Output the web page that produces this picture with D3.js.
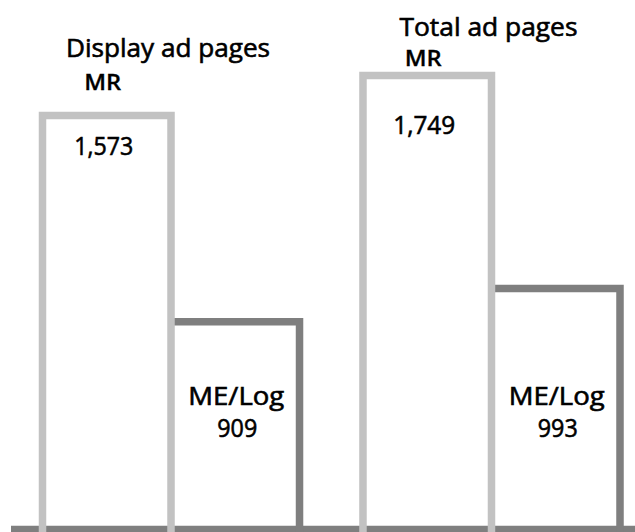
<!DOCTYPE html>
<html>
<head>
<meta charset="utf-8">
<script src="https://cdn.jsdelivr.net/npm/d3@7"></script>
<style>
  html, body { margin: 0; padding: 0; background: #ffffff; }
  svg { display: block; }
  text { font-family: "Open Sans", "Noto Sans", sans-serif; fill: #000; stroke: #000; stroke-width: 0.6px; }
  text.bold { stroke-width: 0.3px; }
</style>
</head>
<body>
<svg id="chart" width="635" height="532"></svg>
<script>
// ---- data ----
const groups = ["Display ad pages", "Total ad pages"];
const series = ["MR", "ME/Log"];
const mrValues = [1573, 1749];
const meLogValues = [909, 993];
const valueLabels = [["1,573", "909"], ["1,749", "993"]];

// ---- layout ----
const W = 635, H = 532;
const baseY = 529.5;
const sw = 7.5;
const light = "#c2c2c2";
const dark = "#7f7f7f";

const svg = d3.select("#chart");

const x0 = d3.scaleBand().domain(groups).range([42.5, 620]).paddingInner(0.198).paddingOuter(0).align(0);
const x1 = d3.scaleBand().domain(series).range([0, x0.bandwidth()]).padding(0);
// the original is not drawn to a linear scale; a truncated log axis matches its bar heights best
const y = d3.scaleLog().domain([523, 1749]).range([baseY, 75.6]);

// baseline
svg.append("line")
  .attr("x1", 11).attr("x2", W)
  .attr("y1", baseY).attr("y2", baseY)
  .attr("stroke", dark).attr("stroke-width", sw);

const data = groups.map((g, i) => ({ group: g, mr: mrValues[i], me: meLogValues[i], labels: valueLabels[i] }));

const gs = svg.selectAll("g.grp").data(data).join("g").attr("class", "grp")
  .attr("transform", d => `translate(${x0(d.group)},0)`);

// ME/Log bars (dark, top + right side)
gs.append("path")
  .attr("d", d => {
    const l = x1("ME/Log"), r = l + x1.bandwidth(), t = y(d.me);
    return `M${l},${t}H${r}V${H + 4}`;
  })
  .attr("fill", "none").attr("stroke", dark).attr("stroke-width", sw)
  .attr("stroke-linejoin", "miter");

// MR bars (light, open at bottom)
gs.append("path")
  .attr("d", d => {
    const l = x1("MR"), r = l + x1.bandwidth(), t = y(d.mr);
    return `M${l},${H + 4}V${t}H${r}V${H + 4}`;
  })
  .attr("fill", "none").attr("stroke", light).attr("stroke-width", sw)
  .attr("stroke-linejoin", "miter");

// text layout
const titleY = [57, 36];
const mrLabelY = [90, 65.7];
const mrValY = [155, 134];
const titleLen = [204, 178];
const mrValLen = [59, 62];

gs.append("text")
  .attr("x", x0.bandwidth() / 2 - 3)
  .attr("y", (d, i) => titleY[i])
  .attr("text-anchor", "middle")
  .attr("font-size", 25)
  .attr("textLength", (d, i) => titleLen[i])
  .attr("lengthAdjust", "spacingAndGlyphs")
  .text(d => d.group);

gs.append("text")
  .attr("class", "bold")
  .attr("x", x1("MR") + x1.bandwidth() / 2 - 4)
  .attr("y", (d, i) => mrLabelY[i])
  .attr("text-anchor", "middle")
  .attr("font-size", 22)
  .attr("font-weight", 600)
  .attr("textLength", 37)
  .attr("lengthAdjust", "spacingAndGlyphs")
  .text("MR");

gs.append("text")
  .attr("x", x1("MR") + x1.bandwidth() / 2 - 3)
  .attr("y", (d, i) => mrValY[i])
  .attr("text-anchor", "middle")
  .attr("font-size", 25)
  .attr("textLength", (d, i) => mrValLen[i])
  .attr("lengthAdjust", "spacingAndGlyphs")
  .text(d => d.labels[0]);

gs.append("text")
  .attr("x", x1("ME/Log") + x1.bandwidth() / 2 + 1)
  .attr("y", 405)
  .attr("text-anchor", "middle")
  .attr("font-size", 25)
  .attr("textLength", 96)
  .attr("lengthAdjust", "spacingAndGlyphs")
  .text("ME/Log");

gs.append("text")
  .attr("x", x1("ME/Log") + x1.bandwidth() / 2 + 2)
  .attr("y", 436.5)
  .attr("text-anchor", "middle")
  .attr("font-size", 25)
  .attr("textLength", 40)
  .attr("lengthAdjust", "spacingAndGlyphs")
  .text(d => d.labels[1]);
</script>
</body>
</html>
